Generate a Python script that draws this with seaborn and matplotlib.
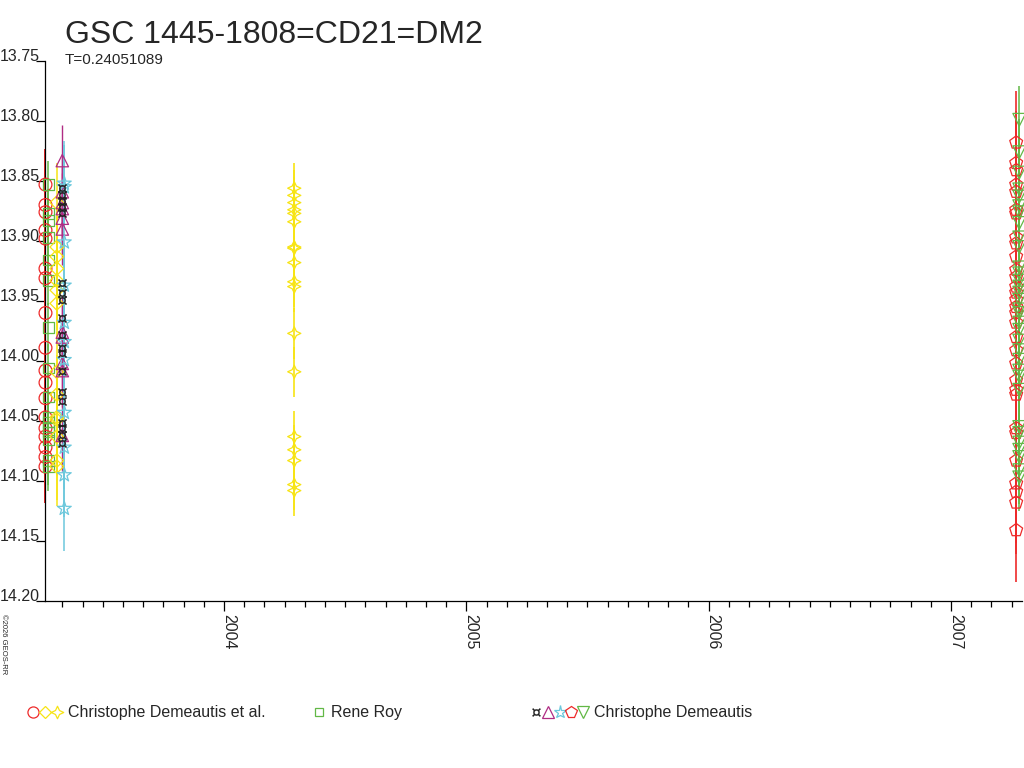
import matplotlib
matplotlib.use("Agg")
import numpy as np
import matplotlib.pyplot as plt
from matplotlib.ticker import MultipleLocator
from matplotlib.lines import Line2D
from matplotlib.path import Path
import seaborn as sns

# ==========================================
# data : decimal year + magnitude
# ==========================================
# Christophe Demeautis et al.
date_cde_o = 2003.2634
mag_cde_o = [13.853, 13.870, 13.876, 13.891, 13.898, 13.923, 13.931, 13.960, 13.989,
             14.008, 14.018, 14.031, 14.047, 14.056, 14.063, 14.072, 14.080, 14.088]
err_cde_o = 0.030

date_cde_d = 2003.310
mag_cde_d = [13.868, 13.905, 13.913, 13.923, 13.933, 13.941, 13.952, 14.009, 14.028,
             14.047, 14.049, 14.063, 14.083, 14.088]
err_cde_d = 0.033

date_cde_s4 = 2004.290
mag_cde_s4 = [13.856, 13.862, 13.868, 13.874, 13.877, 13.884, 13.905, 13.906, 13.918,
              13.934, 13.938, 13.977, 14.009, 14.063, 14.074, 14.083, 14.103, 14.108]
err_cde_s4 = 0.021

# Rene Roy
date_rr = 2003.2758
mag_rr = [13.853, 13.877, 13.883, 13.897, 13.916, 13.933, 13.972, 14.006, 14.030,
          14.047, 14.051, 14.055, 14.059, 14.066, 14.083, 14.088]
err_rr = 0.020

# Christophe Demeautis
date_cd_x = 2003.3328
mag_cd_x = [13.856, 13.862, 13.867, 13.872, 13.877, 13.935, 13.943, 13.949, 13.964,
            13.978, 13.989, 13.993, 14.008, 14.026, 14.033, 14.052, 14.056, 14.062, 14.068]
err_cd_x = 0.0

date_cd_t = 2003.3328
mag_cd_t = [13.833, 13.859, 13.868, 13.873, 13.881, 13.890, 13.976, 13.980, 14.002,
            14.008, 14.062]
err_cd_t = 0.030

date_cd_s = 2003.341
mag_cd_s = [13.852, 13.855, 13.901, 13.937, 13.968, 13.984, 13.999, 14.043, 14.072,
            14.095, 14.123]
err_cd_s = 0.035

date_cd_p = 2007.269
mag_cd_p = [13.818, 13.835, 13.841, 13.853, 13.859, 13.874, 13.877, 13.897, 13.902,
            13.913, 13.924, 13.930, 13.938, 13.943, 13.949, 13.955, 13.960, 13.968,
            13.980, 13.991, 14.002, 14.016, 14.024, 14.028, 14.056, 14.060, 14.083,
            14.102, 14.109, 14.118, 14.141]
err_cd_p = 0.043

date_cd_v = 2007.2818
mag_cd_v = [13.799, 13.826, 13.843, 13.857, 13.863, 13.871, 13.876, 13.885, 13.897,
            13.905, 13.922, 13.927, 13.933, 13.938, 13.943, 13.949, 13.957, 13.960,
            13.968, 13.974, 13.983, 13.991, 13.999, 14.008, 14.013, 14.024, 14.055,
            14.060, 14.068, 14.074, 14.080, 14.091, 14.097]
err_cd_v = 0.028

year_ticks = [2004, 2005, 2006, 2007]
mag_ticks = [13.75, 13.80, 13.85, 13.90, 13.95, 14.00, 14.05, 14.10, 14.15, 14.20]

# ==========================================
# styles
# ==========================================
RED = "#ee2a2a"
GREEN = "#62b846"
YELLOW = "#f7e414"
CYAN = "#6cc8dc"
PURPLE = "#b02c84"
BLACK = "#1e1e1e"

# 4-point star (like the GEOS plots)
_ang = np.pi / 2 + np.arange(8) * np.pi / 4
_rad = np.where(np.arange(8) % 2 == 0, 1.0, 0.45)
_v = np.column_stack([_rad * np.cos(_ang), _rad * np.sin(_ang)])
STAR4 = Path(np.vstack([_v, _v[:1]]), closed=True)

series = [
    (date_cde_o, mag_cde_o, err_cde_o, "o", RED, 85, 1.4),
    (date_rr, mag_rr, err_rr, "s", GREEN, 55, 1.1),
    (date_cde_d, mag_cde_d, err_cde_d, "D", YELLOW, 48, 1.1),
    (date_cde_s4, mag_cde_s4, err_cde_s4, STAR4, YELLOW, 90, 1.2),
    (date_cd_t, mag_cd_t, err_cd_t, "^", PURPLE, 80, 1.0),
    (date_cd_s, mag_cd_s, err_cd_s, "*", CYAN, 110, 1.1),
    (date_cd_x, mag_cd_x, err_cd_x, "$¤$", BLACK, 40, 1.0),
    (date_cd_p, mag_cd_p, err_cd_p, "p", RED, 95, 1.2),
    (date_cd_v, mag_cd_v, err_cd_v, "v", GREEN, 85, 1.1),
]

sns.set_style("ticks")
plt.rcParams["font.family"] = ["Liberation Sans", "DejaVu Sans"]
TXT = "#262626"

fig = plt.figure(figsize=(10.24, 7.68), dpi=100)
ax = fig.add_axes([44.5 / 1024, 1 - 601 / 768, (1022 - 44.5) / 1024, 540 / 768])

# error bars first, markers on top
for d, mags, err, mk, col, s, lw in series:
    if err > 0:
        ax.errorbar([d] * len(mags), mags, yerr=err, fmt="none", ecolor=col,
                    elinewidth=lw, capsize=0, zorder=2, clip_on=False)

for d, mags, err, mk, col, s, lw in series:
    solid = isinstance(mk, str) and mk.startswith("$")
    sns.scatterplot(x=[d] * len(mags), y=mags, ax=ax, marker=mk, s=s,
                    facecolor=col if solid else "none", edgecolor=col,
                    linewidth=0.2 if solid else 0.9,
                    legend=False, zorder=3, clip_on=False)

ax.set_xlim(2003.2593, 2007.293)
ax.set_ylim(14.20, 13.75)
ax.set_xlabel("")
ax.set_ylabel("")
sns.despine(ax=ax)
for sp in ["left", "bottom"]:
    ax.spines[sp].set_color("black")
    ax.spines[sp].set_linewidth(0.9)

ax.set_yticks(mag_ticks, labels=[f"{m:.2f}" for m in mag_ticks], va="baseline")
ax.tick_params(axis="y", direction="out", length=6.5, width=0.9, pad=-3.2,
               labelsize=11.5, labelcolor=TXT, color="black")

ax.set_xticks(year_ticks, labels=[str(y) for y in year_ticks], rotation=-90,
              rotation_mode="anchor", ha="left", va="baseline")
ax.xaxis.set_minor_locator(MultipleLocator(1 / 12))
ax.tick_params(axis="x", which="major", direction="out", length=7.2, width=0.9,
               pad=2, labelsize=11.5, labelcolor=TXT, color="black")
ax.tick_params(axis="x", which="minor", direction="out", length=4.3, width=0.9,
               color="black")

# title block
fig.text(65 / 1024, 1 - 43 / 768, "GSC 1445-1808=CD21=DM2", fontsize=23,
         color=TXT, ha="left", va="baseline")
fig.text(65 / 1024, 1 - 64 / 768, "T=0.24051089", fontsize=11, color=TXT,
         ha="left", va="baseline")
fig.text(2 / 1024, 1 - 614 / 768, "©2026 GEOS-RR", fontsize=5.5, color=TXT,
         rotation=-90, rotation_mode="anchor", ha="left", va="baseline")

# legend row at the bottom
lax = fig.add_axes([0, 0, 1, 1], zorder=-1)
lax.set_xlim(0, 1024)
lax.set_ylim(768, 0)
lax.axis("off")
legend_groups = [
    ([(33, "o", RED, 8.0), (45, "D", YELLOW, 6.0), (57, STAR4, YELLOW, 9.0)],
     68, "Christophe Demeautis et al."),
    ([(319, "s", GREEN, 6.0)], 331, "Rene Roy"),
    ([(536, "$¤$", BLACK, 6.0), (548, "^", PURPLE, 8.0), (560, "*", CYAN, 9.5),
      (571, "p", RED, 8.5), (583, "v", GREEN, 8.5)], 594, "Christophe Demeautis"),
]
for marks, tx, label in legend_groups:
    for mx, mk, col, ms in marks:
        solid = isinstance(mk, str) and mk.startswith("$")
        lax.add_line(Line2D([mx], [712], marker=mk, markersize=ms,
                            markerfacecolor=col if solid else "none",
                            markeredgecolor=col,
                            markeredgewidth=0.2 if solid else 0.9,
                            linestyle="none"))
    lax.text(tx, 717.5, label, fontsize=11.5, color=TXT, ha="left", va="baseline")

plt.savefig("out.png", dpi=100)
